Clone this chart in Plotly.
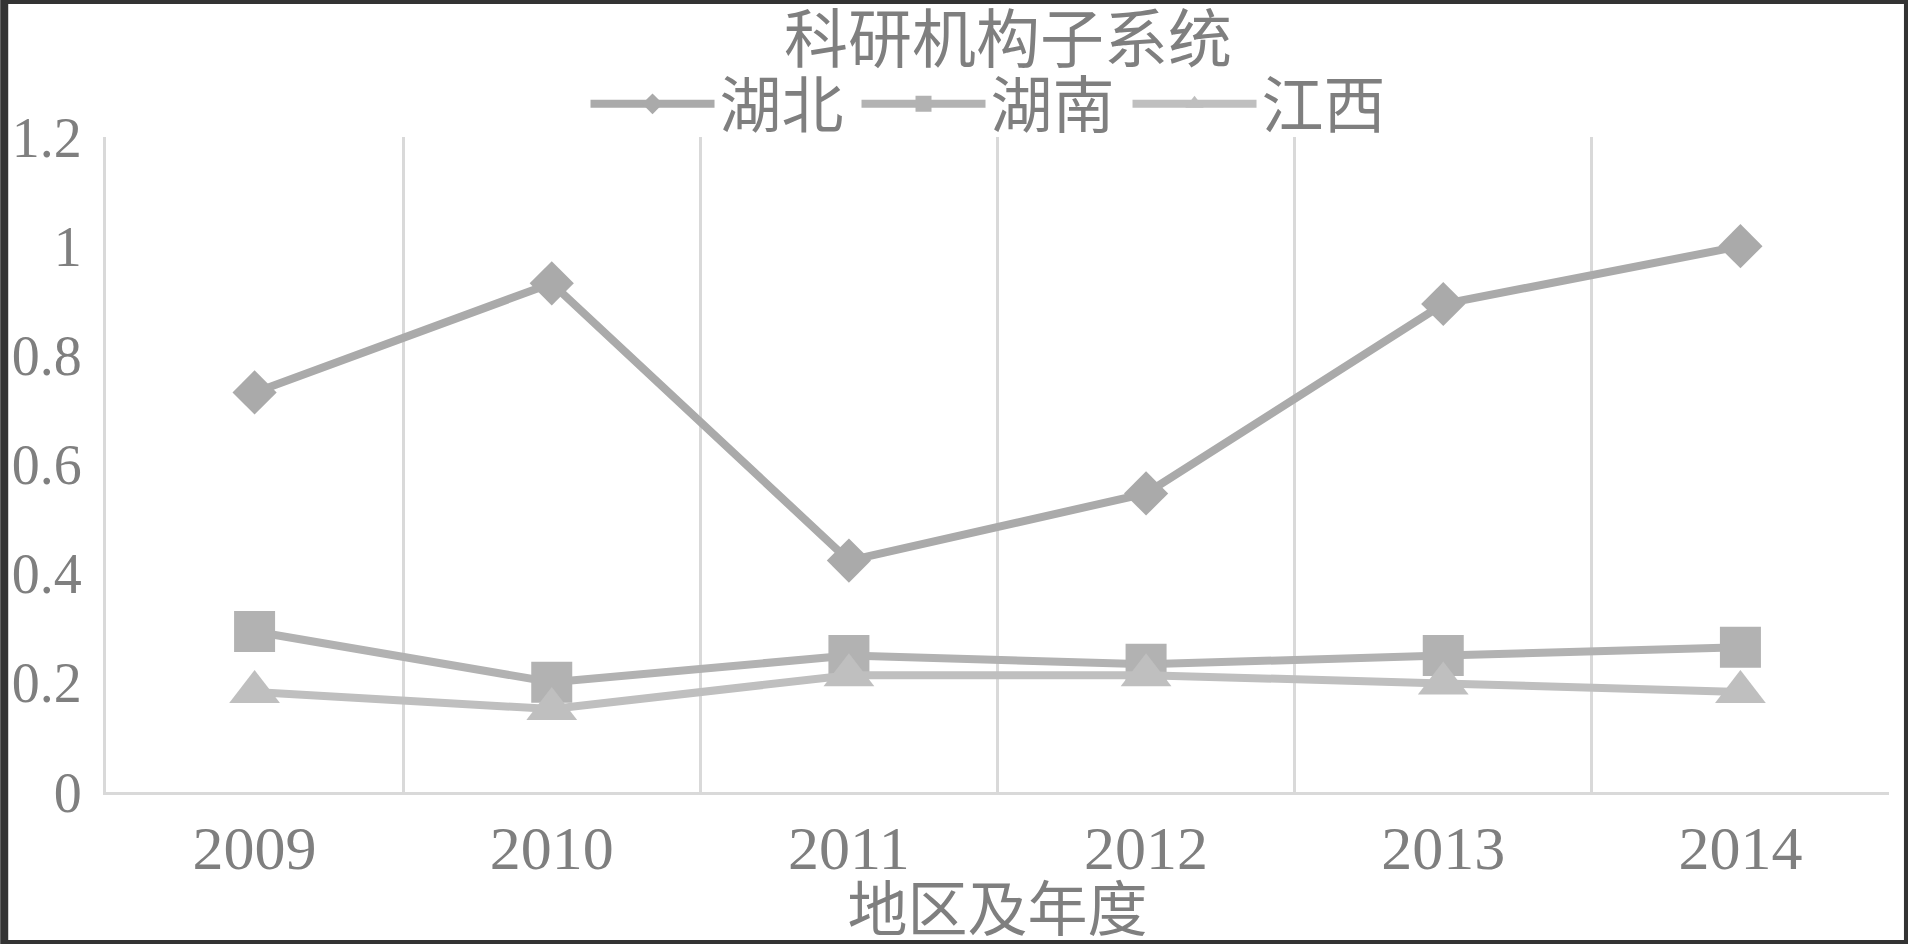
import plotly.graph_objects as go

years = ["2009", "2010", "2011", "2012", "2013", "2014"]
hubei = [0.732, 0.932, 0.424, 0.547, 0.894, 1.0]
hunan = [0.294, 0.201, 0.250, 0.234, 0.250, 0.265]
jiangxi = [0.183, 0.152, 0.214, 0.214, 0.199, 0.183]
series_names = ["湖北", "湖南", "江西"]
y_ticks = [0, 0.2, 0.4, 0.6, 0.8, 1.0, 1.2]
y_ticktext = ["0", "0.2", "0.4", "0.6", "0.8", "1", "1.2"]

W, H = 1908, 944
ML, MR, MT, MB = 102, 19, 137, 152
PW, PH = W - ML - MR, H - MT - MB

FONT = "Liberation Serif, 'Noto Sans CJK SC', serif"
TXT = "#7f7f7f"

fig = go.Figure()
styles = [
    (hubei, "#aaaaaa", "diamond", 34),
    (hunan, "#b2b2b2", "square", 41),
    (jiangxi, "#bfbfbf", "triangle-up", 44),
]
for name, (vals, col, sym, sz) in zip(series_names, styles):
    fig.add_trace(go.Scatter(
        x=years, y=vals, name=name, mode="lines+markers",
        line=dict(color=col, width=8),
        marker=dict(symbol=sym, size=sz, color=col),
    ))

fig.update_layout(
    width=W, height=H,
    margin=dict(l=ML, r=MR, t=MT, b=MB, pad=0),
    paper_bgcolor="white", plot_bgcolor="white",
    font=dict(family=FONT, color=TXT),
    title=dict(text="科研机构子系统", x=1008 / W, xanchor="center",
               y=1 - 40 / H, yanchor="middle", yref="container",
               font=dict(size=64, color=TXT, family=FONT)),
    legend=dict(orientation="h", x=(990 - ML) / PW, xanchor="center",
                y=1 + 33 / PH, yanchor="middle",
                font=dict(size=62, color=TXT, family=FONT),
                itemwidth=124, entrywidth=132,
                bgcolor="rgba(0,0,0,0)", tracegroupgap=0),
    showlegend=True,
    xaxis=dict(type="category", tickson="boundaries", range=[-0.5, 5.5],
               showgrid=True, gridcolor="#d9d9d9", gridwidth=3,
               showline=True, linecolor="#d9d9d9", linewidth=3,
               ticks="", tickfont=dict(size=62, color=TXT, family=FONT),
               title=dict(text="地区及年度", font=dict(size=60, color=TXT, family=FONT),
                          standoff=4),
               zeroline=False),
    yaxis=dict(range=[0, 1.2], tickvals=y_ticks, ticktext=y_ticktext,
               showgrid=False, zeroline=False,
               showline=True, linecolor="#d9d9d9", linewidth=3,
               ticks="", ticklabelstandoff=10,
               tickfont=dict(size=56, color=TXT, family=FONT)),
)

# outer dark frame of the picture
fig.add_shape(type="rect", xref="paper", yref="paper",
              x0=-ML / PW, x1=1 + MR / PW, y0=-MB / PH, y1=1 + MT / PH,
              line=dict(color="#333333", width=8), fillcolor="rgba(0,0,0,0)",
              layer="above")

fig.write_html("out.html",
               config={"displayModeBar": False},
               post_script="document.body.style.margin='0';document.body.style.overflow='hidden';")
